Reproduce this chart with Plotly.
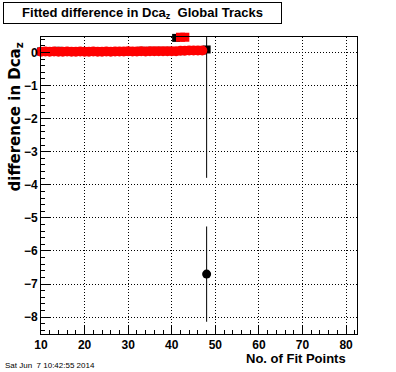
import plotly.graph_objects as go

# ---- data ----
black_x = list(range(10, 49))
black_y = [0.03, 0.02, 0.03, 0.04, 0.05, 0.03, 0.02, 0.03, 0.02, 0.03,
           0.03, 0.02, 0.03, 0.02, 0.03, 0.03, 0.02, 0.03, 0.03, 0.04,
           0.03, 0.04, 0.03, 0.05, 0.04, 0.05, 0.04, 0.05, 0.04, 0.05,
           0.04, 0.44, 0.04, 0.05, 0.06, 0.06, 0.06, 0.06, 0.09]
black_err = [0.0] * 38 + [3.88]

out_x = [48]
out_y = [-6.7]
out_err = [1.44]

red_x = list(range(10, 48))
red_y = [0.02, 0.03, 0.02, 0.03, 0.02, 0.02, 0.03, 0.02, 0.02, 0.03,
         0.02, 0.02, 0.03, 0.02, 0.02, 0.03, 0.02, 0.03, 0.03, 0.03,
         0.04, 0.03, 0.03, 0.04, 0.03, 0.04, 0.04, 0.04, 0.04, 0.04,
         0.04, 0.04, 0.05, 0.05, 0.06, 0.06, 0.06, 0.06]

red_out_x = [42, 43]
red_out_y = [0.46, 0.46]

title_text = "Fitted difference in Dca<sub>z</sub>&nbsp; Global Tracks"
ytitle_text = "difference in Dca<sub>z</sub>"
xtitle_text = "No. of Fit Points"
date_text = "Sat Jun  7 10:42:55 2014"

W, H = 396, 372
ML, MR, MT, MB = 41, 39, 37, 38
PW, PH = W - ML - MR, H - MT - MB

FONT = "Liberation Sans, Arial, sans-serif"
WIDEFONT = "DejaVu Sans, Liberation Sans, sans-serif"
DOT = "1px,2px"

fig = go.Figure()

# error bars (clipped to plot area)
fig.add_trace(go.Scatter(
    x=black_x, y=black_y, mode="markers",
    marker=dict(size=1, color="rgba(0,0,0,0)"),
    error_y=dict(type="data", array=black_err, color="black", thickness=1, width=0),
    cliponaxis=True, hoverinfo="skip", showlegend=False))
fig.add_trace(go.Scatter(
    x=out_x, y=out_y, mode="markers",
    marker=dict(size=1, color="rgba(0,0,0,0)"),
    error_y=dict(type="data", array=out_err, color="black", thickness=1, width=0),
    cliponaxis=True, hoverinfo="skip", showlegend=False))

# markers
fig.add_trace(go.Scatter(
    x=black_x, y=black_y, mode="markers",
    marker=dict(symbol="square", size=8, color="black", line=dict(width=0)),
    cliponaxis=False, showlegend=False))
fig.add_trace(go.Scatter(
    x=out_x, y=out_y, mode="markers",
    marker=dict(symbol="circle", size=9, color="black", line=dict(width=0)),
    cliponaxis=False, showlegend=False))
fig.add_trace(go.Scatter(
    x=red_x, y=red_y, mode="markers",
    marker=dict(symbol="circle", size=10, color="#ff0000", line=dict(width=0)),
    cliponaxis=False, showlegend=False))
fig.add_trace(go.Scatter(
    x=red_out_x, y=red_out_y, mode="markers",
    marker=dict(symbol="square", size=9, color="#ff0000", line=dict(width=0)),
    cliponaxis=False, showlegend=False))

axis_common = dict(
    showline=True, linecolor="black", linewidth=1, mirror=True,
    ticks="inside", ticklen=9, tickwidth=1, tickcolor="black",
    showgrid=True, gridcolor="black", gridwidth=1, griddash=DOT,
    zeroline=False,
    tickfont=dict(family=FONT, size=12, color="black", weight="bold"),
)

fig.update_xaxes(range=[10, 82.5], tick0=10, dtick=10,
                 minor=dict(dtick=2, ticks="inside", ticklen=4, tickcolor="black", showgrid=False),
                 **axis_common)
fig.update_yaxes(range=[-8.51, 0.467], tick0=0, dtick=1,
                 minor=dict(dtick=0.2, ticks="inside", ticklen=4, tickcolor="black", showgrid=False),
                 **axis_common)

def px_x(p):
    return (p - ML) / PW

def px_y(p):
    return 1 - (p - MT) / PH

fig.update_layout(
    width=W, height=H,
    margin=dict(l=ML, r=MR, t=MT, b=MB, autoexpand=False),
    paper_bgcolor="white", plot_bgcolor="white",
    font=dict(family=FONT, color="black"),
    annotations=[
        dict(text=title_text, xref="paper", yref="paper",
             x=px_x(142.5), y=px_y(13), xanchor="center", yanchor="middle",
             showarrow=False, font=dict(family=FONT, size=13, weight="bold"),
             bordercolor="black", borderwidth=1, borderpad=0,
             width=277, height=20, bgcolor="white"),
        dict(text=ytitle_text, xref="paper", yref="paper",
             x=px_x(15), y=px_y(41), xanchor="center", yanchor="top",
             textangle=-90, showarrow=False,
             font=dict(family=WIDEFONT, size=15, weight="bold")),
        dict(text=xtitle_text, xref="paper", yref="paper",
             x=px_x(348), y=px_y(358), xanchor="right", yanchor="middle",
             showarrow=False, font=dict(family=FONT, size=13, weight="bold")),
        dict(text=date_text, xref="paper", yref="paper",
             x=px_x(3), y=px_y(365), xanchor="left", yanchor="middle",
             showarrow=False, font=dict(family=FONT, size=8)),
    ],
)

fig.write_html(
    "out.html",
    config={"displayModeBar": False},
    post_script="document.body.style.margin='0';document.body.style.padding='0';document.documentElement.style.overflow='hidden';",
)
